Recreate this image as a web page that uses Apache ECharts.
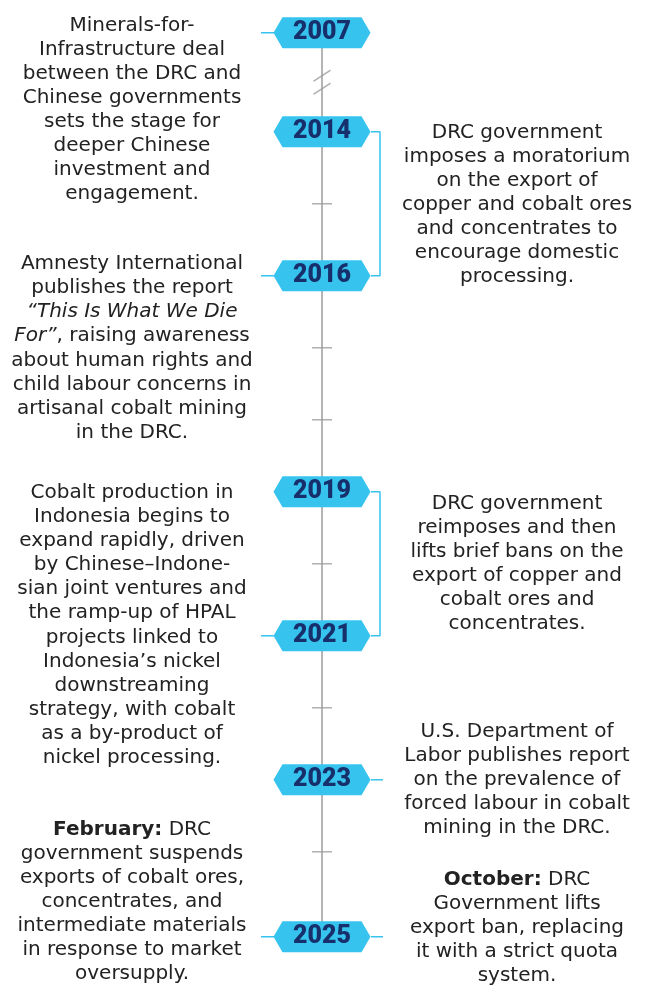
<!DOCTYPE html>
<html>
<head>
<meta charset="utf-8">
<script src="https://cdn.jsdelivr.net/npm/echarts@6.0.0/dist/echarts.min.js"></script>
<style>
  html, body { margin: 0; padding: 0; background: #ffffff; }
  #timeline { width: 649px; height: 985px; }
</style>
</head>
<body>
<div id="timeline"></div>
<script>
// years shown as badges on the timeline
var eventYears = [2007, 2014, 2016, 2019, 2021, 2023, 2025];

// years that only get a small tick on the line
var tickYears = [2015, 2017, 2018, 2020, 2022, 2024];

// notes on the left, one per year
var leftNoteYears = [2007, 2016, 2021, 2025];
var leftNotes = [
    'Minerals-for-\nInfrastructure deal\nbetween the DRC and\nChinese governments\nsets the stage for\ndeeper Chinese\ninvestment and\nengagement.',
    'Amnesty International\npublishes the report\n{i|\u201cThis Is What We Die}\n{i|For\u201d}, raising awareness\nabout human rights and\nchild labour concerns in\nartisanal cobalt mining\nin the DRC.',
    'Cobalt production in\nIndonesia begins to\nexpand rapidly, driven\nby Chinese\u2013Indone-\nsian joint ventures and\nthe ramp-up of HPAL\nprojects linked to\nIndonesia\u2019s nickel\ndownstreaming\nstrategy, with cobalt\nas a by-product of\nnickel processing.',
    '{b|February:} DRC\ngovernment suspends\nexports of cobalt ores,\nconcentrates, and\nintermediate materials\nin response to market\noversupply.'
];

// notes on the right, each covering a span of years (bracket when from != to)
var rightNoteSpans = [[2014, 2016], [2019, 2021], [2023, 2023], [2025, 2025]];
var rightNotes = [
    'DRC government\nimposes a moratorium\non the export of\ncopper and cobalt ores\nand concentrates to\nencourage domestic\nprocessing.',
    'DRC government\nreimposes and then\nlifts brief bans on the\nexport of copper and\ncobalt ores and\nconcentrates.',
    'U.S. Department of\nLabor publishes report\non the prevalence of\nforced labour in cobalt\nmining in the DRC.',
    '{b|October:} DRC\nGovernment lifts\nexport ban, replacing\nit with a strict quota\nsystem.'
];

// the axis is broken between 2007 and 2014, and the last entry gets a little more room
function tpos(year) {
    if (year < 2014) return year + 5.625;
    if (year >= 2025) return year + 0.18;
    return year;
}

var CYAN = '#36c4ef';
var NAVY = '#172f6a';
var GREY = '#9c9c9c';
var TEXT = '#222222';
var FONT = 'DejaVu Sans';
var LINE_H = 24.1;

// vertical offsets (px) of note blocks relative to their anchor
var leftShift = [77, 72.5, -10.5, -35];
var rightShift = [1, 0, 0, -9];

var noteRich = {
    i: { fontFamily: FONT, fontSize: 20, lineHeight: LINE_H, fontStyle: 'italic', color: TEXT },
    b: { fontFamily: FONT, fontSize: 20, lineHeight: LINE_H, fontWeight: 'bold', color: TEXT }
};

function noteLabel(text, dy) {
    return {
        show: true,
        position: 'inside',
        align: 'center',
        verticalAlign: 'middle',
        formatter: text,
        offset: [0, dy],
        fontFamily: FONT,
        fontSize: 20,
        lineHeight: LINE_H,
        color: TEXT,
        opacity: 1,
        rich: noteRich
    };
}

function connector(points) {
    return {
        type: 'line',
        data: points,
        symbol: 'none',
        z: 2,
        lineStyle: { color: CYAN, width: 1.5 }
    };
}

function init() {
    var chart = echarts.init(document.getElementById('timeline'));

    var series = [];

    // main line
    series.push({
        type: 'line',
        data: [[0, tpos(eventYears[0])], [0, tpos(eventYears[eventYears.length - 1])]],
        symbol: 'none',
        z: 1,
        lineStyle: { color: GREY, width: 1.5 }
    });

    // break mark
    series.push({
        type: 'scatter',
        data: [[0, (tpos(2007) + tpos(2014)) / 2]],
        symbol: 'path://M0,11L17,0M0,24L17,13',
        symbolSize: [17, 24],
        z: 3,
        itemStyle: { color: 'rgba(0,0,0,0)', borderColor: GREY, borderWidth: 1.5 }
    });

    // year ticks
    series.push({
        type: 'scatter',
        data: tickYears.map(function (y) { return [0, tpos(y)]; }),
        symbol: 'rect',
        symbolSize: [20, 1.5],
        z: 3,
        itemStyle: { color: GREY }
    });

    // connectors on the left
    leftNoteYears.forEach(function (y) {
        series.push(connector([[-61, tpos(y)], [-48, tpos(y)]]));
    });

    // connectors and brackets on the right
    rightNoteSpans.forEach(function (s) {
        var a = tpos(s[0]), b = tpos(s[1]);
        if (s[0] === s[1]) {
            series.push(connector([[49, a], [61, a]]));
        } else {
            series.push(connector([[49, a], [58, a], [58, b], [49, b]]));
        }
    });

    // badges
    series.push({
        type: 'scatter',
        data: eventYears.map(function (y) { return { value: [0, tpos(y)], name: String(y) }; }),
        symbol: 'path://M9,0L88,0L97,15.5L88,31L9,31L0,15.5Z',
        symbolSize: [97, 31],
        z: 5,
        itemStyle: { color: CYAN, opacity: 1 },
        label: {
            show: true,
            position: 'inside',
            formatter: '{b}',
            fontFamily: 'Roboto',
            fontWeight: 900,
            fontSize: 25,
            color: NAVY
        }
    });

    // left notes
    series.push({
        type: 'scatter',
        symbolSize: 0,
        z: 4,
        data: leftNotes.map(function (t, i) {
            return {
                value: [-190, tpos(leftNoteYears[i])],
                label: noteLabel(t, leftShift[i])
            };
        })
    });

    // right notes
    series.push({
        type: 'scatter',
        symbolSize: 0,
        z: 4,
        data: rightNotes.map(function (t, i) {
            var s = rightNoteSpans[i];
            return {
                value: [195, (tpos(s[0]) + tpos(s[1])) / 2],
                label: noteLabel(t, rightShift[i])
            };
        })
    });

    chart.setOption({
        backgroundColor: '#ffffff',
        animation: false,
        grid: { left: 0, right: 5, top: 0, bottom: 0 },
        xAxis: { type: 'value', min: -322, max: 322, show: false },
        yAxis: { type: 'value', inverse: true, min: 2012.17, max: 2025.85, show: false },
        series: series.map(function (s) { s.silent = true; return s; })
    });
}

document.addEventListener('DOMContentLoaded', function () {
    init();
});
</script>
</body>
</html>
